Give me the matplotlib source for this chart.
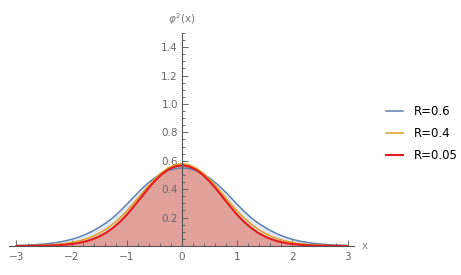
import matplotlib
matplotlib.use("Agg")
import matplotlib.pyplot as plt
from matplotlib.ticker import MultipleLocator

# sample positions (step 0.125) and values
x_vals = [-3.0, -2.875, -2.75, -2.625, -2.5, -2.375, -2.25, -2.125, -2.0, -1.875, -1.75, -1.625,
          -1.5, -1.375, -1.25, -1.125, -1.0, -0.875, -0.75, -0.625, -0.5, -0.375, -0.25, -0.125,
          0.0,
          0.125, 0.25, 0.375, 0.5, 0.625, 0.75, 0.875, 1.0, 1.125, 1.25, 1.375, 1.5,
          1.625, 1.75, 1.875, 2.0, 2.125, 2.25, 2.375, 2.5, 2.625, 2.75, 2.875, 3.0]

phi2_r06 = [0.0035, 0.005, 0.007, 0.010, 0.014, 0.019, 0.026, 0.035, 0.047, 0.062, 0.081, 0.104,
            0.132, 0.163, 0.200, 0.245, 0.293, 0.345, 0.395, 0.440, 0.478, 0.510, 0.532, 0.545,
            0.550,
            0.545, 0.532, 0.510, 0.478, 0.440, 0.395, 0.345, 0.293, 0.245, 0.200, 0.163, 0.132,
            0.104, 0.081, 0.062, 0.047, 0.035, 0.026, 0.019, 0.014, 0.010, 0.007, 0.005, 0.0035]

phi2_r04 = [0.001, 0.0016, 0.0025, 0.0037, 0.0055, 0.008, 0.012, 0.017, 0.025, 0.035, 0.049, 0.067,
            0.090, 0.119, 0.155, 0.197, 0.246, 0.302, 0.360, 0.417, 0.470, 0.516, 0.550, 0.572,
            0.580,
            0.572, 0.550, 0.516, 0.470, 0.417, 0.360, 0.302, 0.246, 0.197, 0.155, 0.119, 0.090,
            0.067, 0.049, 0.035, 0.025, 0.017, 0.012, 0.008, 0.0055, 0.0037, 0.0025, 0.0016, 0.001]

phi2_r005 = [0.0002, 0.0004, 0.0007, 0.0012, 0.002, 0.0033, 0.0055, 0.009, 0.014, 0.021, 0.032, 0.047,
             0.067, 0.094, 0.128, 0.170, 0.220, 0.278, 0.338, 0.399, 0.455, 0.502, 0.538, 0.560,
             0.568,
             0.560, 0.538, 0.502, 0.455, 0.399, 0.338, 0.278, 0.220, 0.170, 0.128, 0.094, 0.067,
             0.047, 0.032, 0.021, 0.014, 0.009, 0.0055, 0.0033, 0.002, 0.0012, 0.0007, 0.0004, 0.0002]

labels = ["R=0.6", "R=0.4", "R=0.05"]
colors = ["#5e81b5", "#e19c24", "#e41a1c"]

fig = plt.figure(figsize=(4.61, 2.75), dpi=100)
ax = fig.add_axes([0.0202, 0.1055, 0.748, 0.7745])

series = [phi2_r06, phi2_r04, phi2_r005]
widths = [1.1, 1.1, 1.5]
fill_alpha = [0.18, 0.15, 0.3]
for ys, lab, c, lw, fa in zip(series, labels, colors, widths, fill_alpha):
    ax.fill_between(x_vals, 0, ys, color=c, alpha=fa, lw=0)
    ax.plot(x_vals, ys, color=c, lw=lw, label=lab)

ax.set_xlim(-3.13, 3.12)
ax.set_ylim(0, 1.5)

gray = "#555555"
for side in ["top", "right"]:
    ax.spines[side].set_visible(False)
ax.spines["left"].set_position(("data", 0))
ax.spines["bottom"].set_position(("data", 0))
for side in ["left", "bottom"]:
    ax.spines[side].set_color(gray)
    ax.spines[side].set_linewidth(0.8)

ax.xaxis.set_minor_locator(MultipleLocator(0.2))
ax.yaxis.set_minor_locator(MultipleLocator(0.05))
ax.set_yticks([0.2, 0.4, 0.6, 0.8, 1.0, 1.2, 1.4])
ax.set_yticklabels(["0.2", "0.4", "0.6", "0.8", "1.0", "1.2", "1.4"])
ax.set_xticks([-3, -2, -1, 0, 1, 2, 3])
ax.set_xticklabels(["\u22123", "\u22122", "\u22121", "0", "1", "2", "3"])

ax.tick_params(which="both", direction="in", color=gray, width=0.6,
               labelcolor="#666666", labelsize=7.5)
ax.tick_params(which="major", length=4)
ax.tick_params(which="minor", length=2.2)
ax.tick_params(axis="x", pad=4)
ax.tick_params(axis="y", pad=3)

ax.text(3.25, 0, "x", color="#888888", fontsize=7.5, va="center", ha="left")
ax.text(0, 1.54, r"$\varphi^2$(x)", color="#777777", fontsize=7.5, va="bottom", ha="center")

fig.legend(loc="center left", bbox_to_anchor=(0.815, 0.515), frameon=False,
           fontsize=8.5, handlelength=1.4, handletextpad=0.9, labelspacing=0.75)

fig.savefig("out.png", dpi=100)
